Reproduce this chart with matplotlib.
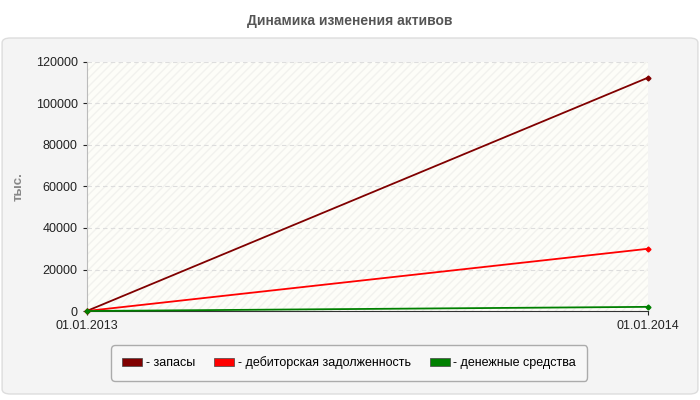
import matplotlib
matplotlib.use("Agg")
import matplotlib.pyplot as plt
from matplotlib.patches import FancyBboxPatch, Rectangle

plt.rcParams['font.family'] = ['Liberation Sans', 'DejaVu Sans']

dates = ["01.01.2013", "01.01.2014"]
zapasy = [0, 112500]
debitor = [0, 30000]
dengi = [0, 2000]
names = ["- запасы", "- дебиторская задолженность", "- денежные средства"]
colors = ["#800000", "#ff0000", "#008000"]

fig = plt.figure(figsize=(7, 4), dpi=100)
fig.patch.set_facecolor("white")
bg = FancyBboxPatch((0.003, 0.015), 0.994, 0.89, boxstyle="round,pad=0,rounding_size=0.012",
                    transform=fig.transFigure, facecolor="#f4f4f4", edgecolor="#dddddd", lw=1, zorder=-10)
fig.patches.append(bg)
fig.text(0.5, 0.948, "Динамика изменения активов", ha="center", va="center", fontsize=10,
         fontweight="bold", color="#555555")

ax = fig.add_axes([0.124, 0.2225, 0.802, 0.6225])
ax.set_facecolor("#fdfdf8")
ax.add_patch(Rectangle((0, 0), 1, 1, transform=ax.transAxes, fill=False, hatch="////",
                       edgecolor="#f2f2ee", lw=0, zorder=0))
x = [0, 1]
for vals, c in zip([zapasy, debitor, dengi], colors):
    ax.plot(x, vals, color=c, lw=1.3, marker="D", markersize=2.5, zorder=3, clip_on=False)
ax.set_xlim(0, 1)
ax.set_ylim(0, 120000)
ax.set_xticks(x)
ax.set_xticklabels(dates)
ax.set_yticks(range(0, 120001, 20000))
ax.tick_params(labelsize=9, colors="#222222", length=3)
ax.grid(axis="y", color="#dddddd", ls=(0, (4, 3)), lw=0.8)
for s in ["top", "right"]:
    ax.spines[s].set_visible(False)
ax.spines["left"].set_color("#bbbbbb")
ax.spines["bottom"].set_color("#333333")
ax.set_ylabel("тыс.", fontsize=9.5, color="#888888", fontweight="bold", labelpad=8)

handles = [Rectangle((0, 0), 1, 1, facecolor=c, edgecolor="#444444", lw=0.5) for c in colors]
leg = fig.legend(handles, names, loc="center", bbox_to_anchor=(0.499, 0.093), ncol=3, fontsize=9,
                 frameon=True, handlelength=1.6, handleheight=0.7, handletextpad=0.3,
                 columnspacing=1.5, borderpad=0.9)
leg.get_frame().set_edgecolor("#999999")
leg.get_frame().set_facecolor("#f8f8f8")
leg.get_frame().set_boxstyle("round,pad=0,rounding_size=0.3")

fig.savefig("out.png", dpi=100)
